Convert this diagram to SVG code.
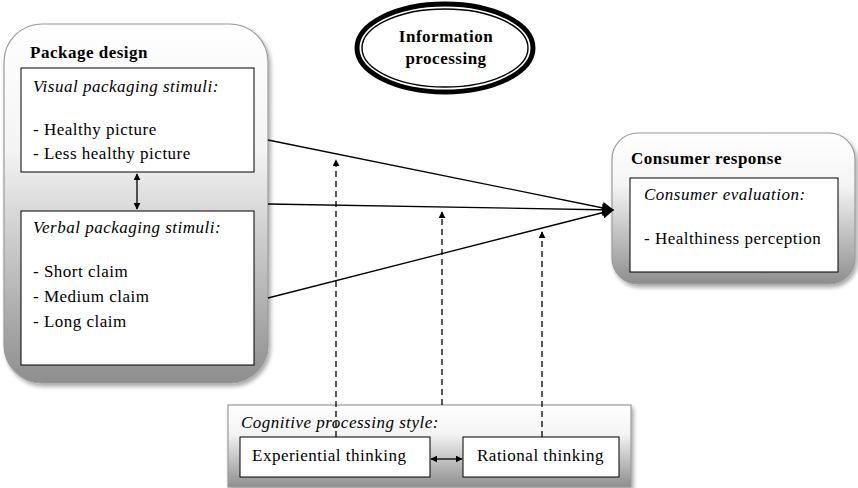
<svg xmlns="http://www.w3.org/2000/svg" width="858" height="488" viewBox="0 0 858 488">
<style>
text { font-family: "Liberation Serif", "Times New Roman", serif; font-size: 17px; letter-spacing: 0.5px; fill: #000; }
.b { font-weight: bold; }
.i { font-style: italic; }
.outer { fill: url(#g); stroke: #9a9a9a; stroke-width: 1.2; filter: url(#sh); }
.inner { fill: #fff; stroke: #000; stroke-width: 1; }
.conn { stroke: #000; stroke-width: 1.3; fill: none; }
.dash { stroke: #000; stroke-width: 1.3; fill: none; stroke-dasharray: 6 4; }
</style>
<defs>
<linearGradient id="g" x1="0" y1="0" x2="0" y2="1">
<stop offset="0" stop-color="#ffffff"/>
<stop offset="0.35" stop-color="#f4f4f4"/>
<stop offset="1" stop-color="#8e8e8e"/>
</linearGradient>
<filter id="sh" x="-10%" y="-10%" width="125%" height="125%">
<feGaussianBlur in="SourceAlpha" stdDeviation="2"/>
<feOffset dx="2" dy="3" result="o"/>
<feComponentTransfer><feFuncA type="linear" slope="0.35"/></feComponentTransfer>
<feMerge><feMergeNode/><feMergeNode in="SourceGraphic"/></feMerge>
</filter>
<marker id="ah" viewBox="0 0 10 10" refX="9" refY="5" markerWidth="7" markerHeight="7" markerUnits="userSpaceOnUse" orient="auto-start-reverse">
<path d="M0,0 L10,5 L0,10 z" fill="#000"/>
</marker>
<marker id="ahb" viewBox="0 0 10 10" refX="9" refY="5" markerWidth="12" markerHeight="12" markerUnits="userSpaceOnUse" orient="auto">
<path d="M0,0 L10,5 L0,10 z" fill="#000"/>
</marker>
</defs>

<g id="package-design">
<rect class="outer" x="4" y="24" width="264" height="359" rx="38"/>
<text class="b" x="30" y="58">Package design</text>
<rect class="inner" x="21" y="68" width="233" height="104"/>
<text class="i" x="33" y="92">Visual packaging stimuli:</text>
<text x="33" y="135">- Healthy picture</text>
<text x="33" y="159">- Less healthy picture</text>
<rect class="inner" x="21" y="211" width="233" height="154"/>
<text class="i" x="33" y="233">Verbal packaging stimuli:</text>
<text x="33" y="277">- Short claim</text>
<text x="33" y="302">- Medium claim</text>
<text x="33" y="327">- Long claim</text>
</g>

<g id="information-processing">
<ellipse cx="445" cy="48" rx="88" ry="44" fill="#fff" stroke="#000" stroke-width="5"/>
<ellipse cx="445" cy="48" rx="83" ry="39" fill="none" stroke="#000" stroke-width="1.4"/>
<text class="b" x="446" y="42" text-anchor="middle">Information</text>
<text class="b" x="446" y="64" text-anchor="middle">processing</text>
</g>

<g id="consumer-response">
<rect class="outer" x="612" y="133" width="243" height="151" rx="26"/>
<text class="b" x="631" y="164">Consumer response</text>
<rect class="inner" x="630" y="178" width="208" height="94"/>
<text class="i" x="644" y="200">Consumer evaluation:</text>
<text x="644" y="244">- Healthiness perception</text>
</g>

<g id="cognitive-processing-style">
<rect class="outer" x="228" y="405" width="403" height="82"/>
<text class="i" x="241" y="428">Cognitive processing style:</text>
<rect class="inner" x="240" y="437" width="190" height="40"/>
<text x="252" y="461">Experiential thinking</text>
<rect class="inner" x="463" y="437" width="156" height="40"/>
<text x="477" y="461">Rational thinking</text>
</g>

<g id="connectors">
<line class="conn" x1="137" y1="174" x2="137" y2="209" marker-start="url(#ah)" marker-end="url(#ah)"/>
<line class="conn" x1="268" y1="140" x2="613" y2="210" marker-end="url(#ahb)"/>
<line class="conn" x1="268" y1="204" x2="613" y2="210" marker-end="url(#ahb)"/>
<line class="conn" x1="268" y1="298" x2="613" y2="210" marker-end="url(#ahb)"/>
<line class="dash" x1="336" y1="437" x2="336" y2="160" marker-end="url(#ah)"/>
<line class="dash" x1="442" y1="405" x2="442" y2="212" marker-end="url(#ah)"/>
<line class="dash" x1="542" y1="437" x2="542" y2="232" marker-end="url(#ah)"/>
<line class="conn" x1="431" y1="459" x2="462" y2="459" marker-start="url(#ah)" marker-end="url(#ah)"/>
</g>
</svg>
